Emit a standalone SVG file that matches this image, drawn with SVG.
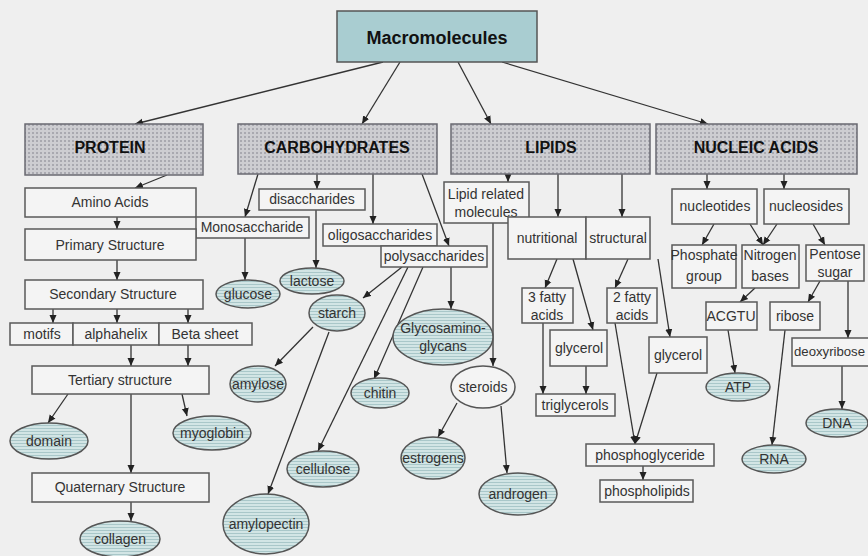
<svg xmlns="http://www.w3.org/2000/svg" width="868" height="556" viewBox="0 0 868 556">
<defs>
<pattern id="hatch" width="4" height="4" patternUnits="userSpaceOnUse">
<rect width="4" height="4" fill="#cdcdd1"/>
<rect width="2" height="2" fill="#a9a9b0"/>
</pattern>
<pattern id="stripe" width="4" height="3" patternUnits="userSpaceOnUse">
<rect width="4" height="3" fill="#d2e5e5"/>
<rect y="2" width="4" height="1" fill="#a9c7c9"/>
</pattern>
<marker id="ah" markerWidth="8" markerHeight="8" refX="8" refY="4" orient="auto" markerUnits="userSpaceOnUse">
<path d="M0,0.5 L8,4 L0,7.5 z" fill="#222"/>
</marker>
<style>
.bx{fill:#f4f4f4;stroke:#5a5a5a;stroke-width:1.5}
.cat{fill:url(#hatch);stroke:#6a6a72;stroke-width:1.5}
.el{fill:url(#stripe);stroke:#555;stroke-width:1.5}
.t{font-family:"Liberation Sans",Arial,sans-serif;font-size:14px;fill:#333;text-anchor:middle}
.tb{font-family:"Liberation Sans",Arial,sans-serif;font-size:16px;font-weight:bold;fill:#111;text-anchor:middle}
#connectors line{stroke:#333;stroke-width:1.3;marker-end:url(#ah)}
</style>
</defs>
<rect width="868" height="556" fill="#efefef"/>

<g id="connectors">
<line x1="383" y1="62" x2="135" y2="124"/>
<line x1="400" y1="62" x2="362" y2="124"/>
<line x1="458" y1="62" x2="491" y2="124"/>
<line x1="502" y1="62" x2="708" y2="124"/>
<line x1="167" y1="175" x2="135" y2="188"/>
<line x1="117" y1="217" x2="117" y2="229"/>
<line x1="117" y1="260" x2="117" y2="280"/>
<line x1="53" y1="309" x2="53" y2="323"/>
<line x1="117" y1="309" x2="117" y2="323"/>
<line x1="188" y1="309" x2="188" y2="323"/>
<line x1="131" y1="345" x2="131" y2="366"/>
<line x1="188" y1="345" x2="188" y2="366"/>
<line x1="68" y1="394" x2="48" y2="423"/>
<line x1="182" y1="394" x2="187" y2="416"/>
<line x1="131" y1="394" x2="131" y2="473"/>
<line x1="131" y1="502" x2="131" y2="521"/>
<line x1="258" y1="174" x2="245" y2="217"/>
<line x1="317" y1="174" x2="317" y2="189"/>
<line x1="373" y1="174" x2="373" y2="224"/>
<line x1="422" y1="174" x2="449" y2="246"/>
<line x1="245" y1="238" x2="245" y2="280"/>
<line x1="316" y1="210" x2="316" y2="268"/>
<line x1="402" y1="267" x2="363" y2="298"/>
<line x1="408" y1="267" x2="318" y2="451"/>
<line x1="423" y1="267" x2="374" y2="379"/>
<line x1="451" y1="267" x2="451" y2="309"/>
<line x1="313" y1="327" x2="275" y2="366"/>
<line x1="329" y1="332" x2="268" y2="494"/>
<line x1="508" y1="174" x2="508" y2="182"/>
<line x1="558" y1="174" x2="558" y2="217"/>
<line x1="622" y1="174" x2="622" y2="217"/>
<line x1="493" y1="223" x2="493" y2="366"/>
<line x1="457" y1="403" x2="438" y2="437"/>
<line x1="501" y1="406" x2="507" y2="473"/>
<line x1="557" y1="259" x2="545" y2="288"/>
<line x1="573" y1="259" x2="593" y2="330"/>
<line x1="543" y1="323" x2="543" y2="394"/>
<line x1="586" y1="366" x2="586" y2="394"/>
<line x1="628" y1="259" x2="615" y2="288"/>
<line x1="658" y1="259" x2="670" y2="337"/>
<line x1="615" y1="323" x2="635" y2="444"/>
<line x1="657" y1="373" x2="635" y2="444"/>
<line x1="643" y1="466" x2="643" y2="480"/>
<line x1="707" y1="174" x2="707" y2="189"/>
<line x1="784" y1="174" x2="784" y2="189"/>
<line x1="714" y1="224" x2="702" y2="245"/>
<line x1="750" y1="224" x2="763" y2="245"/>
<line x1="777" y1="224" x2="763" y2="245"/>
<line x1="813" y1="224" x2="825" y2="245"/>
<line x1="755" y1="288" x2="740" y2="302"/>
<line x1="820" y1="281" x2="808" y2="302"/>
<line x1="848" y1="281" x2="848" y2="338"/>
<line x1="728" y1="330" x2="735" y2="373"/>
<line x1="785" y1="330" x2="772" y2="445"/>
<line x1="842" y1="366" x2="842" y2="409"/>
</g>

<g id="macromolecules"><rect x="337" y="11" width="200" height="51" fill="#a9cdd1" stroke="#555" stroke-width="1.5"/><text x="437" y="44" class="tb" style="font-size:18px">Macromolecules</text></g>

<g id="protein"><rect class="cat" x="25" y="124" width="178" height="51"/><text x="110" y="153" class="tb">PROTEIN</text></g>
<g id="carbohydrates"><rect class="cat" x="238" y="124" width="199" height="50"/><text x="337" y="153" class="tb">CARBOHYDRATES</text></g>
<g id="lipids"><rect class="cat" x="451" y="124" width="199" height="50"/><text x="551" y="153" class="tb">LIPIDS</text></g>
<g id="nucleic-acids"><rect class="cat" x="656" y="124" width="201" height="50"/><text x="756" y="153" class="tb">NUCLEIC ACIDS</text></g>

<g id="amino-acids"><rect class="bx" x="25" y="188" width="171" height="29"/><text x="110" y="207" class="t">Amino Acids</text></g>
<g id="monosaccharide"><rect class="bx" x="196" y="217" width="113" height="21"/><text x="252" y="232" class="t">Monosaccharide</text></g>
<g id="primary"><rect class="bx" x="25" y="229" width="171" height="31"/><text x="110" y="250" class="t">Primary Structure</text></g>
<g id="secondary"><rect class="bx" x="25" y="280" width="178" height="29"/><text x="113" y="299" class="t">Secondary Structure</text></g>
<g id="motifs"><rect class="bx" x="10" y="323" width="63" height="22"/><text x="42" y="339" class="t">motifs</text></g>
<g id="alphahelix"><rect class="bx" x="73" y="323" width="86" height="22"/><text x="116" y="339" class="t">alphahelix</text></g>
<g id="beta-sheet"><rect class="bx" x="159" y="323" width="93" height="22"/><text x="205" y="339" class="t">Beta sheet</text></g>
<g id="tertiary"><rect class="bx" x="32" y="366" width="177" height="28"/><text x="120" y="385" class="t">Tertiary structure</text></g>
<g id="quaternary"><rect class="bx" x="32" y="473" width="177" height="29"/><text x="120" y="492" class="t">Quaternary Structure</text></g>

<g id="disaccharides"><rect class="bx" x="259" y="189" width="106" height="21"/><text x="312" y="204" class="t">disaccharides</text></g>
<g id="oligosaccharides"><rect class="bx" x="323" y="224" width="114" height="22"/><text x="380" y="240" class="t">oligosaccharides</text></g>
<g id="polysaccharides"><rect class="bx" x="381" y="246" width="106" height="21"/><text x="434" y="261" class="t">polysaccharides</text></g>

<g id="lipid-related"><rect class="bx" x="444" y="182" width="85" height="41"/><text x="486" y="199" class="t">Lipid related</text><text x="486" y="217" class="t">molecules</text></g>
<g id="nutritional"><rect class="bx" x="508" y="217" width="78" height="42"/><text x="547" y="243" class="t">nutritional</text></g>
<g id="structural"><rect class="bx" x="586" y="217" width="64" height="42"/><text x="618" y="243" class="t">structural</text></g>
<g id="three-fatty"><rect class="bx" x="522" y="288" width="51" height="35"/><text x="547" y="302" class="t">3 fatty</text><text x="547" y="320" class="t">acids</text></g>
<g id="glycerol1"><rect class="bx" x="550" y="330" width="57" height="36"/><text x="579" y="353" class="t">glycerol</text></g>
<g id="triglycerols"><rect class="bx" x="536" y="394" width="79" height="22"/><text x="575" y="410" class="t">triglycerols</text></g>
<g id="two-fatty"><rect class="bx" x="607" y="288" width="50" height="35"/><text x="632" y="302" class="t">2 fatty</text><text x="632" y="320" class="t">acids</text></g>
<g id="glycerol2"><rect class="bx" x="649" y="337" width="58" height="36"/><text x="678" y="360" class="t">glycerol</text></g>
<g id="phosphoglyceride"><rect class="bx" x="586" y="444" width="128" height="22"/><text x="650" y="460" class="t">phosphoglyceride</text></g>
<g id="phospholipids"><rect class="bx" x="600" y="480" width="93" height="22"/><text x="647" y="496" class="t">phospholipids</text></g>

<g id="nucleotides"><rect class="bx" x="672" y="189" width="85" height="35"/><text x="715" y="211" class="t">nucleotides</text></g>
<g id="nucleosides"><rect class="bx" x="764" y="189" width="85" height="35"/><text x="806" y="211" class="t">nucleosides</text></g>
<g id="phosphate-group"><rect class="bx" x="672" y="245" width="64" height="43"/><text x="704" y="260" class="t">Phosphate</text><text x="704" y="281" class="t">group</text></g>
<g id="nitrogen-bases"><rect class="bx" x="742" y="245" width="57" height="43"/><text x="770" y="260" class="t">Nitrogen</text><text x="770" y="281" class="t">bases</text></g>
<g id="pentose-sugar"><rect class="bx" x="806" y="245" width="58" height="36"/><text x="835" y="259" class="t">Pentose</text><text x="835" y="277" class="t">sugar</text></g>
<g id="acgtu"><rect class="bx" x="706" y="302" width="51" height="28"/><text x="731" y="321" class="t">ACGTU</text></g>
<g id="ribose"><rect class="bx" x="770" y="302" width="50" height="28"/><text x="795" y="321" class="t">ribose</text></g>
<g id="deoxyribose"><rect class="bx" x="792" y="338" width="82" height="28"/><text x="794" y="356" class="t" style="text-anchor:start;font-size:13px" textLength="71" lengthAdjust="spacingAndGlyphs">deoxyribose</text></g>

<g id="domain"><ellipse class="el" cx="49" cy="441" rx="39" ry="18"/><text x="49" y="446" class="t">domain</text></g>
<g id="myoglobin"><ellipse class="el" cx="212" cy="433" rx="39" ry="17"/><text x="212" y="438" class="t">myoglobin</text></g>
<g id="collagen"><ellipse class="el" cx="120" cy="539" rx="40" ry="18"/><text x="120" y="544" class="t">collagen</text></g>
<g id="glucose"><ellipse class="el" cx="248" cy="294" rx="32" ry="14"/><text x="248" y="299" class="t">glucose</text></g>
<g id="lactose"><ellipse class="el" cx="312" cy="281" rx="32" ry="13"/><text x="312" y="286" class="t">lactose</text></g>
<g id="starch"><ellipse class="el" cx="337" cy="313" rx="28" ry="18"/><text x="337" y="318" class="t">starch</text></g>
<g id="amylose"><ellipse class="el" cx="258" cy="384" rx="28" ry="18"/><text x="258" y="389" class="t">amylose</text></g>
<g id="amylopectin"><ellipse class="el" cx="266" cy="524" rx="43" ry="30"/><text x="266" y="529" class="t">amylopectin</text></g>
<g id="cellulose"><ellipse class="el" cx="323" cy="469" rx="36" ry="18"/><text x="323" y="474" class="t">cellulose</text></g>
<g id="chitin"><ellipse class="el" cx="380" cy="393" rx="29" ry="15"/><text x="380" y="398" class="t">chitin</text></g>
<g id="glycosaminoglycans"><ellipse class="el" cx="443" cy="337" rx="50" ry="28"/><text x="443" y="333" class="t">Glycosamino-</text><text x="443" y="351" class="t">glycans</text></g>
<g id="steroids"><ellipse cx="483" cy="387" rx="32" ry="21" fill="#f4f4f4" stroke="#555" stroke-width="1.5"/><text x="483" y="392" class="t">steroids</text></g>
<g id="estrogens"><ellipse class="el" cx="433" cy="458" rx="32" ry="21"/><text x="433" y="463" class="t">estrogens</text></g>
<g id="androgen"><ellipse class="el" cx="518" cy="494" rx="39" ry="21"/><text x="518" y="499" class="t">androgen</text></g>
<g id="atp"><ellipse class="el" cx="738" cy="387" rx="32" ry="14"/><text x="738" y="392" class="t">ATP</text></g>
<g id="rna"><ellipse class="el" cx="774" cy="459" rx="32" ry="14"/><text x="774" y="464" class="t">RNA</text></g>
<g id="dna"><ellipse class="el" cx="837" cy="423" rx="31" ry="14"/><text x="837" y="428" class="t">DNA</text></g>
</svg>
